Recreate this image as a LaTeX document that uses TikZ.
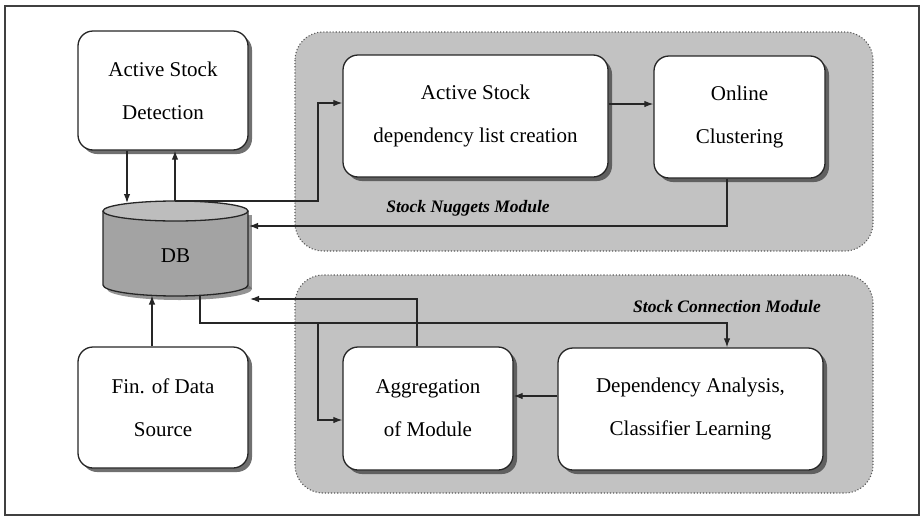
\documentclass[tikz,border=0pt]{standalone}
\usepackage{fontspec}
\setmainfont{Liberation Serif}
\usetikzlibrary{arrows.meta,shadows}
\begin{document}
\begin{tikzpicture}[x=1pt,y=1pt,
  box/.style={draw=black!85, line width=1.3pt, fill=white, rounded corners=15pt,
    align=center, inner sep=0pt,
    font=\fontsize{21}{43}\selectfont,
    drop shadow={shadow xshift=4pt, shadow yshift=-4pt, fill=black!75, opacity=.75}},
  module/.style={draw=black!65, dotted, line width=1.1pt, fill=black!24, rounded corners=28pt},
  modlabel/.style={font=\fontsize{17.5}{20}\selectfont\bfseries\itshape, inner sep=0pt},
  link/.style={draw=black!85, line width=1.2pt},
  arr/.style={link, -{Latex[length=9pt,width=6.5pt]}}]
\useasboundingbox (0,0) rectangle (921,-517);

% outer frame
\draw[black!75, line width=1.3pt] (5,-6) rectangle (919,-515);

% module backgrounds
\path[module] (295,-32) rectangle (873,-251);
\path[module] (295,-275) rectangle (873,-493);
\node[modlabel] (lblNug) at (468,-208) {Stock Nuggets Module};
\node[modlabel] (lblCon) at (727,-307) {Stock Connection Module};

% database cylinder with its shadow
\fill[black!60, opacity=.7] (107,-215) rectangle (252,-289);
\fill[black!60, opacity=.7] (179.5,-289) ellipse (72.5 and 11);
\fill[black!36] (103,-211) rectangle (248,-285);
\fill[black!36] (175.5,-285) ellipse (72.5 and 11);
\draw[black!85, line width=1.3pt] (103,-211) -- (103,-285)
  arc[start angle=180, end angle=360, x radius=72.5, y radius=11] -- (248,-211);
\draw[black!85, line width=1.3pt, fill=black!26] (175.5,-211) ellipse (72.5 and 10);
\node[inner sep=0pt, font=\fontsize{21}{24}\selectfont] (DB) at (175.5,-256) {DB};

% ports on the database outline
\coordinate (dbTopIn)  at (127,-203);
\coordinate (dbTopOut) at (175,-201);
\coordinate (dbRightA) at (249,-226);
\coordinate (dbRightB) at (250,-299);
\coordinate (dbBotIn)  at (152,-295.5);
\coordinate (dbBotOut) at (200,-295.5);
\coordinate (busA) at (318,-201);
\coordinate (busB) at (318,-323);

% process boxes
\node[box, minimum width=170pt, minimum height=119pt] (ASD) at (163,-90.5)
  {Active Stock\\Detection};
\node[box, minimum width=265pt, minimum height=122pt] (ADL) at (475.5,-116)
  {Active Stock\\dependency list creation};
\node[box, minimum width=171pt, minimum height=122pt] (OC) at (739.5,-117)
  {Online\\Clustering};
\node[box, minimum width=170pt, minimum height=121pt] (FIN) at (163,-407.5)
  {Fin. of Data\\Source};
\node[box, minimum width=170pt, minimum height=123pt] (AGG) at (428,-408.5)
  {Aggregation\\of Module};
\node[box, minimum width=265pt, minimum height=122pt] (DEP) at (690.5,-409)
  {Dependency Analysis,\\Classifier Learning};

% connectors
\draw[arr] (ASD.south -| dbTopIn) -- (dbTopIn);
\draw[arr] (dbTopOut) -- (dbTopOut |- ASD.south);
\draw[arr] (dbTopOut) -- (busA) |- ([yshift=13pt]ADL.west);
\draw[arr] ([yshift=12pt]ADL.east) -- ([yshift=12pt]ADL.east -| OC.west);
\draw[arr] ([xshift=-12.5pt]OC.south) |- (dbRightA);
\draw[arr] (FIN.north -| dbBotIn) -- (dbBotIn);
\draw[arr] ([xshift=-11pt]AGG.north) |- (dbRightB);
\draw[arr] (dbBotOut) |- ([xshift=36.5pt]DEP.north |- busB) -- ([xshift=36.5pt]DEP.north);
\draw[arr] (busB) |- ([yshift=-11.5pt]AGG.west);
\draw[arr] ([yshift=13pt]DEP.west) -- ([yshift=13pt]DEP.west -| AGG.east);
\end{tikzpicture}
\end{document}
